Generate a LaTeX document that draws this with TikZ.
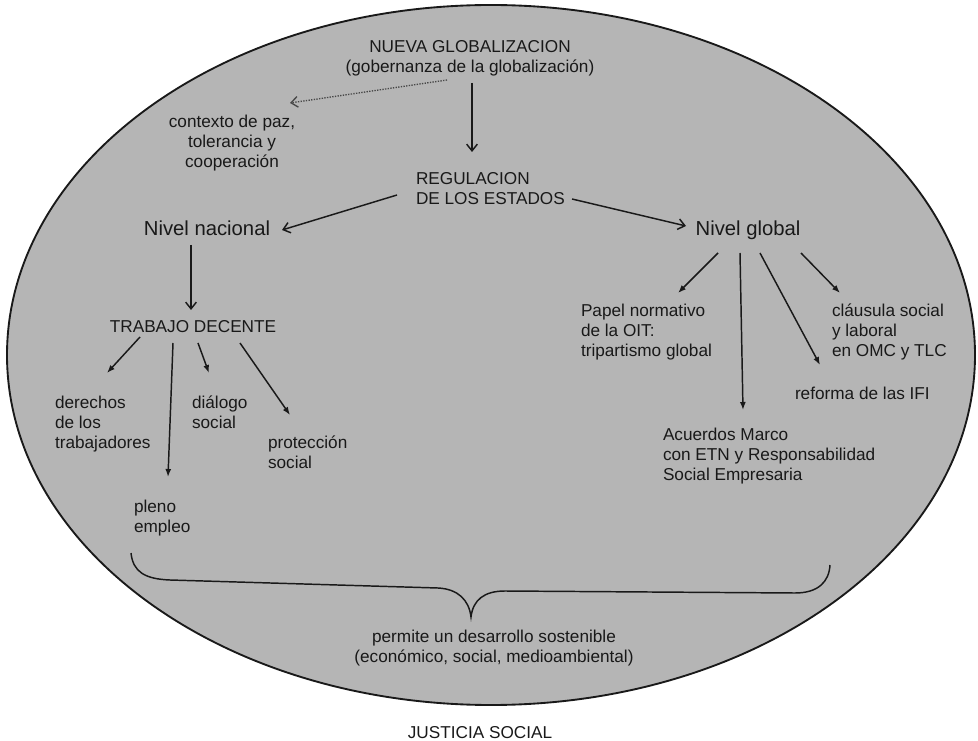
\documentclass[tikz,border=0pt]{standalone}
\usepackage{fontspec}
\setmainfont{Liberation Sans}
\usetikzlibrary{arrows.meta,calc}
\definecolor{ellgray}{RGB}{181,181,181}
\definecolor{ink}{RGB}{25,25,25}
\begin{document}
\begin{tikzpicture}[x=0.75pt,y=-0.75pt,
  txt/.style={inner sep=0pt,outer sep=0pt,text=ink,font=\fontsize{12.9}{15}\selectfont},
  big/.style={inner sep=0pt,outer sep=0pt,text=ink,font=\fontsize{15.2}{18}\selectfont},
  openarr/.style={draw=ink,line width=1.1pt,-{Straight Barb[length=5pt,width=8pt,line width=1.1pt]}},
  fillarr/.style={draw=ink,line width=1.1pt,-{Latex[length=6pt,width=4.5pt]}},
  dotarr/.style={draw=ink!80,line width=1pt,densely dotted,-{Straight Barb[length=5pt,width=8pt,line width=1pt]}},
  bracestyle/.style={draw=ink,line width=1.1pt}]
\useasboundingbox (0,0) rectangle (978,741);
\draw[fill=ellgray,draw=ink,line width=1.4pt] (491,355) ellipse [x radius=363pt,y radius=262.5pt];

% nodes (base anchor = baseline of the last line)
\node[txt,anchor=base,align=center] (nueva) at (470,73) {NUEVA GLOBALIZACION\\(gobernanza de la globalización)};
\node[txt,anchor=base,align=center] (contexto) at (232,168) {contexto de paz,\\tolerancia y\\cooperación};
\node[txt,anchor=base west,align=left] (regul) at (416,205) {REGULACION\\DE LOS ESTADOS};
\node[big,anchor=base] (nacional) at (207,236) {Nivel nacional};
\node[big,anchor=base] (global) at (748,236) {Nivel global};
\node[txt,anchor=base] (trabajo) at (193,333) {TRABAJO DECENTE};
\node[txt,anchor=base west,align=left] (derechos) at (55,448) {derechos\\de los\\trabajadores};
\node[txt,anchor=base west,align=left] (dialogo) at (192,428) {diálogo\\social};
\node[txt,anchor=base west,align=left] (proteccion) at (268,469) {protección\\social};
\node[txt,anchor=base west,align=left] (pleno) at (134,532) {pleno\\empleo};
\node[txt,anchor=base west,align=left] (papel) at (581,357) {Papel normativo\\de la OIT:\\tripartismo global};
\node[txt,anchor=base west,align=left] (clausula) at (832,357) {cláusula social\\y laboral\\en OMC y TLC};
\node[txt,anchor=base west] (reforma) at (795,400) {reforma de las IFI};
\node[txt,anchor=base west,align=left] (acuerdos) at (663,480) {Acuerdos Marco\\con ETN y Responsabilidad\\Social Empresaria};
\node[txt,anchor=base,align=center] (permite) at (494,662) {permite un desarrollo sostenible\\(económico, social, medioambiental)};
\node[txt,anchor=base] (justicia) at (480,738) {JUSTICIA SOCIAL};

% connectors
\draw[dotarr] ($(nueva.base)+(-23,7)$) -- ($(contexto.base)+(58,-65)$);
\draw[openarr] ($(nueva.base)+(2,10)$) -- ($(regul.base west)+(56,-53)$);
\draw[openarr] ($(regul.base west)+(-19,-10)$) -- ($(nacional.base)+(75,-6)$);
\draw[openarr] ($(regul.base west)+(156,-6)$) -- ($(global.base)+(-62,-10)$);
\draw[openarr] ($(nacional.base)+(-16,9)$) -- ($(trabajo.base)+(-2,-23)$);
\draw[fillarr] ($(trabajo.base)+(-53,4)$) -- ($(derechos.base west)+(52,-75)$);
\draw[fillarr] ($(trabajo.base)+(-20,10)$) -- ($(pleno.base west)+(34,-55)$);
\draw[fillarr] ($(trabajo.base)+(5,10)$) -- ($(dialogo.base west)+(17,-55)$);
\draw[fillarr] ($(trabajo.base)+(47,10)$) -- ($(proteccion.base west)+(22,-54)$);
\draw[fillarr] ($(global.base)+(-30,17)$) -- ($(papel.base west)+(97,-64)$);
\draw[fillarr] ($(global.base)+(-8,17)$) -- ($(acuerdos.base west)+(80,-70)$);
\draw[fillarr] ($(global.base)+(12,17)$) -- ($(reforma.base west)+(25,-35)$);
\draw[fillarr] ($(global.base)+(53,17)$) -- ($(clausula.base west)+(8,-64)$);

% brace
\draw[bracestyle] (131,553) .. controls (133,572) and (145,579) .. (170,580) -- (438,588)
  .. controls (458,589) and (469,600) .. (471,617)
  .. controls (473,600) and (484,591) .. (505,591) -- (795,593)
  .. controls (818,593) and (829,582) .. (830,565);
\end{tikzpicture}
\end{document}
